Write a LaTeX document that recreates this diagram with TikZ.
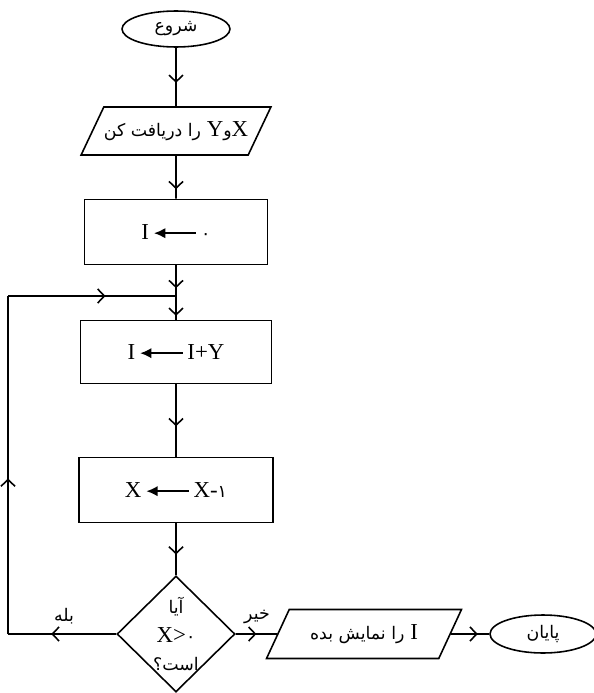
\documentclass[tikz,border=0pt]{standalone}
\usepackage{fontspec}
\setmainfont{Liberation Serif}
\newfontfamily\fa[Script=Arabic,Scale=0.76]{DejaVu Sans}
\TeXXeTstate=1
\usetikzlibrary{shapes.geometric,arrows.meta,decorations.markings}

\newcommand{\getarrow}{\tikz[baseline=-0.6ex]\draw[{Latex[length=6.5pt,width=6pt]}-,line width=1.2pt] (0cm,0cm) -- (0.85cm,0cm);}

\begin{document}
\begin{tikzpicture}
      [%%%%%%%%%%%%%%%%%%%%%%%%%%%%%%
      x=0.02cm, y=-0.02cm,
      line width=0.9pt,
      font=\fontsize{13}{15}\selectfont,
      term/.style={ellipse,draw=black,line width=0.9pt,minimum width=2.16cm,minimum height=0.72cm,inner sep=0pt},
      io/.style={trapezium,trapezium left angle=45,trapezium right angle=135,trapezium stretches body,draw=black,line width=0.9pt,minimum height=0.96cm,inner xsep=0pt,inner ysep=1pt},
      box/.style={rectangle,draw=black,line width=1pt,minimum width=3.8cm,minimum height=1.28cm},
      decision/.style={diamond,draw=black,line width=0.9pt,minimum width=2.36cm,minimum height=2.32cm,inner sep=0pt},
      flow/.style={postaction={decorate,decoration={markings,mark=at position #1 with {\arrow{Straight Barb[length=3.8pt,width=8pt,line width=0.9pt]}}}}},
      ]%%%%%%%%%%%%%%%%%%%%%%%%%%%%%%
      \useasboundingbox (0,0) rectangle (594,693);

      \node[term] (start) at (176,29) {\fa\beginR شروع\endR};
      \node[io,minimum width=3.66cm] (inp) at (176,131) {\beginR X{\fa و}Y {\fa را دریافت کن}\endR};
      \node[box,minimum width=3.66cm,minimum height=1.3cm] (init) at (176,232) {I\,\getarrow\,{\fa ۰}};
      \node[box,minimum width=3.82cm,minimum height=1.26cm] (add) at (176,352) {I\,\getarrow\,I+Y};
      \node[box,minimum width=3.88cm,minimum height=1.3cm] (dec) at (176,490) {X\,\getarrow\,X-{\fa ۱}};
      \node[decision,label={[align=center,font=\fontsize{13}{16}\selectfont]center:{\fa\beginR آیا\endR}\\X>{\fa ۰}\\{\fa\beginR است؟\endR}}] (chk) at (176,634) {};
      \node[io,minimum width=3.9cm,minimum height=0.98cm] (show) at (364,634) {\beginR I {\fa را نمایش بده}\endR};
      \node[term,minimum width=2.12cm,minimum height=0.76cm] (stop) at (543,634) {\fa\beginR پایان\endR};

      \node (yes) at (64,616) {\fa\beginR بله\endR};
      \node (no) at (257,617) {\fa\beginR خیر\endR};

      \coordinate (join) at (176,296);
      \coordinate (cL) at (8,634);
      \coordinate (cT) at (8,296);

      \draw[flow=0.6] (start) -- (inp);
      \draw[flow=0.78] (inp) -- (init);
      \draw[flow=0.42,flow=0.93] (init) -- (add);
      \draw[flow=0.58] (add) -- (dec);
      \draw[flow=0.6] (dec) -- (chk);
      \draw[flow=0.5] (chk) -- (show);
      \draw[flow=0.7] (show) -- (stop);
      % loop back
      \draw[flow=0.6] (chk) -- (cL);
      \draw[flow=0.46] (cL) -- (cT);
      \draw[flow=0.58] (cT) -- (join);
    \end{tikzpicture}
\end{document}
